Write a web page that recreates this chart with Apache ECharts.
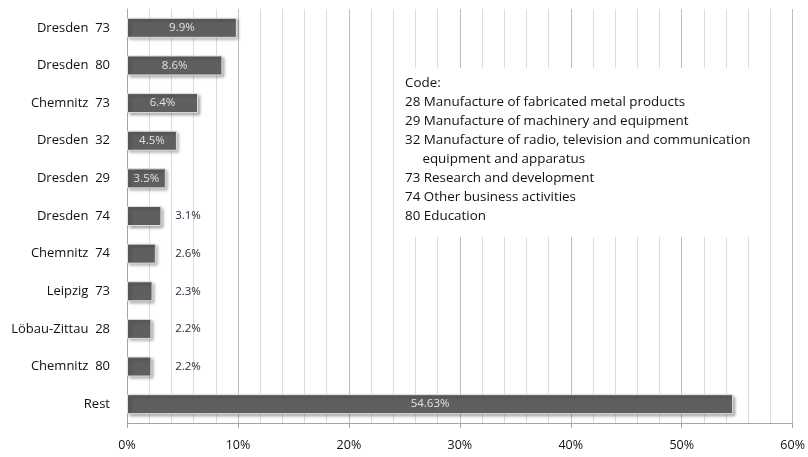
<!DOCTYPE html>
<html><head><meta charset="utf-8">
<script src="https://cdn.jsdelivr.net/npm/echarts@6/dist/echarts.min.js"></script>
<style>html,body{margin:0;padding:0;background:#fff}#c{width:808px;height:457px}</style>
</head><body><div id="c"></div>
<script>
const categories = ['Dresden  73','Dresden  80','Chemnitz  73','Dresden  32','Dresden  29','Dresden  74','Chemnitz  74','Leipzig  73','Löbau-Zittau  28','Chemnitz  80','Rest'];
const values = [9.9, 8.6, 6.4, 4.5, 3.5, 3.1, 2.6, 2.3, 2.2, 2.2, 54.63];
const valueLabels = ['9.9%','8.6%','6.4%','4.5%','3.5%','3.1%','2.6%','2.3%','2.2%','2.2%','54.63%'];
const labelInside = [true,true,true,true,true,false,false,false,false,false,true];
const xTicks = [0,10,20,30,40,50,60];
const codeLines = ['Code:','28 Manufacture of fabricated metal products','29 Manufacture of machinery and equipment','32 Manufacture of radio, television and communication','     equipment and apparatus','73 Research and development','74 Other business activities','80 Education'];

const font = 'Open Sans';
const chart = echarts.init(document.getElementById('c'));
const data = values.map((v,i)=>({
  value: v,
  label: labelInside[i]
    ? {position:'inside', color:'#e2e2e2'}
    : {position:[61,'50%'], align:'center', verticalAlign:'middle', color:'#2a2a3a'}
}));
chart.setOption({
  animation:false,
  grid:{left:127,right:15,top:9,bottom:34,containLabel:false},
  xAxis:{type:'value',min:0,max:60,interval:10,
    axisLine:{show:true,lineStyle:{color:'#a6a6a6'}},
    axisTick:{show:true,length:5,lineStyle:{color:'#a6a6a6'}},
    axisLabel:{formatter:v=>xTicks.includes(v)?v+'%':'',margin:16,color:'#111',fontFamily:font,fontSize:12.5},
    splitLine:{show:true,lineStyle:{color:'#bdbdbd'}},
    minorSplitLine:{show:true,lineStyle:{color:'#dcdcdc'}},
    minorTick:{show:false,splitNumber:5}
  },
  yAxis:{type:'category',data:categories,inverse:true,
    axisLine:{show:true,lineStyle:{color:'#a6a6a6'}},
    axisTick:{show:false},
    axisLabel:{color:'#111',fontFamily:font,fontSize:13,margin:17}
  },
  series:[{type:'bar',data:data,barWidth:20,
    itemStyle:{color:'#5f5f5f',borderColor:'#e0e0e0',borderWidth:1,shadowBlur:3,shadowOffsetX:2,shadowOffsetY:2,shadowColor:'rgba(0,0,0,0.35)'},
    label:{show:true,formatter:p=>valueLabels[p.dataIndex],fontFamily:font,fontSize:11.5}
  }],
  graphic:[
    {type:'rect',shape:{x:394,y:68,width:366,height:169},style:{fill:'#ffffff'},z:10},
    {type:'text',left:405,top:74,z:11,style:{text:codeLines.join('\n'),fontFamily:font,fontSize:13.4,lineHeight:19,fill:'#111'}}
  ]
});
</script></body></html>
